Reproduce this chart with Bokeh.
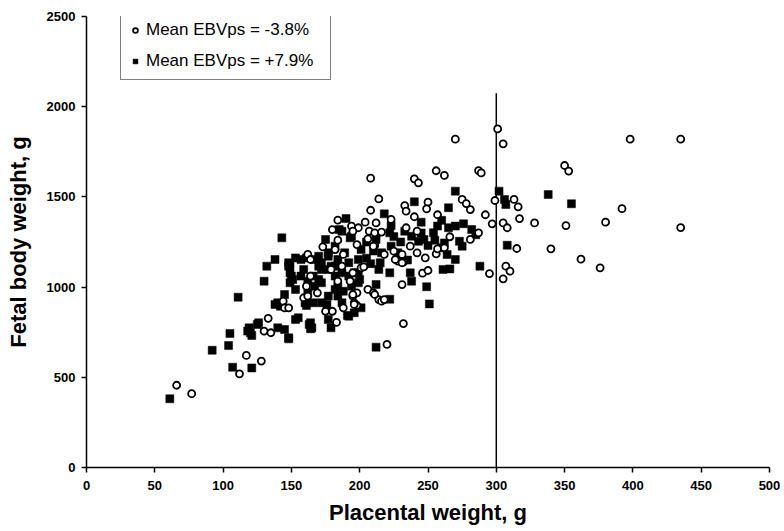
from bokeh.plotting import figure
from bokeh.models import Range1d, Legend, LegendItem, FixedTicker
from bokeh.embed import file_html
from bokeh.resources import INLINE

# Open circles: Mean EBVps = -3.8%
circ_x = [66, 77, 112, 117, 128, 133, 130, 135, 144, 145,
          148, 159, 161, 162, 164, 169, 175, 180, 183, 188,
          198, 173, 184, 180, 184, 194, 199, 182, 198, 188,
          187, 193, 179, 195, 196, 204, 212, 195, 207, 211,
          216, 206, 211, 208, 208, 214, 223, 233, 234, 240,
          234, 242, 240, 243, 250, 249, 256, 262, 257, 270,
          275, 278, 281, 287, 289, 292, 297, 299, 301, 305,
          305, 308, 313, 316, 317, 328, 350, 353, 351, 315,
          340, 362, 376, 307, 310, 305, 295, 246, 250, 231,
          232, 220, 287, 281, 266, 256, 248, 242, 237, 231,
          228, 232, 210, 218, 201, 184, 164, 162, 198, 206,
          210, 214, 216, 196, 225, 226, 231, 257, 262, 203,
          195, 211, 218, 195, 398, 435, 435, 392, 380]
circ_y = [456, 409, 519, 621, 590, 827, 756, 747, 922, 885,
          885, 941, 1005, 1181, 1153, 968, 866, 866, 805, 885,
          898, 1223, 1260, 1319, 1371, 1338, 1329, 1208, 1236, 1181,
          1116, 1033, 1098, 950, 913, 1360, 1356, 1310, 1310, 1301,
          1305, 1268, 1231, 1604, 1426, 1489, 1375, 1452, 1421, 1390,
          1329, 1310, 1600, 1578, 1471, 1434, 1645, 1619, 1401, 1820,
          1486, 1463, 1430, 1646, 1633, 1401, 1351, 1480, 1877, 1794,
          1356, 1329, 1486, 1445, 1380, 1356, 1674, 1643, 1341, 1214,
          1212, 1155, 1107, 1116, 1088, 1046, 1075, 1077, 1092, 1014,
          798, 682, 1301, 1264, 1279, 1184, 1162, 1190, 1227, 1181,
          1144, 1138, 1227, 1181, 1107, 1033, 1061, 950, 968, 987,
          968, 931, 922, 904, 1199, 1153, 1135, 1212, 1218, 1112,
          1079, 959, 931, 959, 1820, 1820, 1330, 1435, 1360]

# Filled squares: Mean EBVps = +7.9%
sq_x = [61, 92, 104, 105, 107, 111, 118, 121, 121, 125,
        119, 126, 120, 140, 145, 148, 153, 155, 163, 164,
        138, 142, 161, 176, 177, 179, 192, 196, 143, 138,
        132, 130, 148, 150, 153, 157, 140, 160, 162, 167,
        185, 193, 175, 153, 149, 151, 167, 170, 166, 162,
        157, 177, 184, 192, 199, 177, 182, 192, 199, 172,
        184, 194, 199, 166, 172, 177, 184, 187, 187, 148,
        149, 149, 159, 170, 172, 170, 177, 179, 145, 164,
        165, 148, 302, 306, 307, 270, 338, 355, 240, 265,
        218, 190, 223, 222, 245, 276, 282, 257, 265, 270,
        254, 238, 243, 247, 273, 275, 262, 260, 264, 270,
        288, 308, 261, 266, 237, 238, 249, 251, 212, 222,
        201, 191, 212, 182, 189, 201, 194, 212, 216, 223,
        215, 214, 222, 196, 200, 187, 182, 172, 182, 188,
        161, 230, 250, 205, 228, 235, 255, 285, 210, 245,
        260, 225, 205, 208, 233]
sq_y = [381, 650, 676, 743, 556, 944, 756, 732, 552, 793,
        774, 802, 747, 774, 765, 713, 820, 830, 793, 769,
        904, 894, 898, 904, 820, 774, 839, 858, 1273, 1153,
        1116, 1033, 1116, 1061, 987, 1153, 913, 913, 968, 1005,
        1319, 1273, 1264, 1162, 1125, 1042, 1153, 1116, 1061, 1033,
        1061, 1171, 1153, 1135, 1153, 1098, 1061, 1061, 1079, 1024,
        1005, 1005, 1024, 913, 913, 950, 950, 913, 1310, 1135,
        1079, 1024, 1098, 1171, 1098, 1042, 1190, 1116, 959, 802,
        774, 719, 1532, 1486, 1458, 1532, 1513, 1462, 1473, 1440,
        1406, 1380, 1341, 1301, 1360, 1351, 1319, 1338, 1329, 1338,
        1301, 1282, 1254, 1264, 1254, 1227, 1245, 1218, 1181, 1153,
        1116, 1232, 1098, 1101, 1079, 1033, 1002, 907, 1014, 933,
        885, 843, 667, 1227, 1190, 1208, 1282, 1264, 1190, 1227,
        1135, 1098, 1079, 1079, 1042, 1079, 1116, 1135, 987, 977,
        1162, 1250, 1230, 1160, 1190, 1150, 1260, 1290, 1200, 1300,
        1370, 1280, 1250, 1130, 1310]

# Reference line at 300 g
ref_x = [300]
ref_bottom = [0]
ref_top = [2075]

x_ticks = [0, 50, 100, 150, 200, 250, 300, 350, 400, 450, 500]
y_ticks = [0, 500, 1000, 1500, 2000, 2500]

labels = ["Mean EBVps = -3.8%", "Mean EBVps = +7.9%"]

p = figure(width=784, height=531, output_backend="svg", toolbar_location=None,
           x_range=Range1d(0, 500), y_range=Range1d(0, 2500),
           min_border_left=86, min_border_right=15, min_border_top=16, min_border_bottom=64)
p.outline_line_color = None
p.grid.visible = False
p.background_fill_color = "white"
p.border_fill_color = "white"

for ax, ticks in ((p.xaxis, x_ticks), (p.yaxis, y_ticks)):
    ax.ticker = FixedTicker(ticks=ticks)
    ax.minor_tick_line_color = None
    ax.major_tick_out = 5
    ax.major_tick_in = 0
    ax.axis_line_width = 1.5
    ax.major_tick_line_width = 1.5
    ax.major_label_text_font = "Liberation Sans"
    ax.major_label_text_font_style = "bold"
    ax.major_label_text_font_size = "13px"
    ax.major_label_text_color = "black"
    ax.axis_label_text_font = "Liberation Sans"
    ax.axis_label_text_font_style = "bold"
    ax.axis_label_text_font_size = "22px"
    ax.axis_label_text_color = "black"

p.xaxis.axis_label = "Placental weight, g"
p.yaxis.axis_label = "Fetal body weight, g"
p.xaxis.major_label_standoff = 8
p.yaxis.major_label_standoff = 6
p.xaxis.axis_label_standoff = 7
p.yaxis.axis_label_standoff = 13

p.segment(x0=ref_x, y0=ref_bottom, x1=ref_x, y1=ref_top, line_color="black", line_width=1.5)

sq = p.scatter(sq_x, sq_y, marker="square", size=8, fill_color="black", line_color="black", line_width=0.5)
ci = p.scatter(circ_x, circ_y, marker="circle", size=7, fill_color="white", line_color="black", line_width=1.8)

legend = Legend(items=[LegendItem(label=labels[0], renderers=[ci]),
                       LegendItem(label=labels[1], renderers=[sq])],
                location=(34, 387), orientation="vertical",
                border_line_color="black", border_line_width=1.5,
                background_fill_color="white", background_fill_alpha=1,
                label_text_font="Liberation Sans", label_text_font_size="17px",
                label_text_color="black", padding=8, spacing=11, margin=0,
                glyph_width=12, glyph_height=20, label_height=20, label_standoff=5,
                label_width=176)
p.add_layout(legend, "center")

open("out.html", "w").write(file_html(p, INLINE))
